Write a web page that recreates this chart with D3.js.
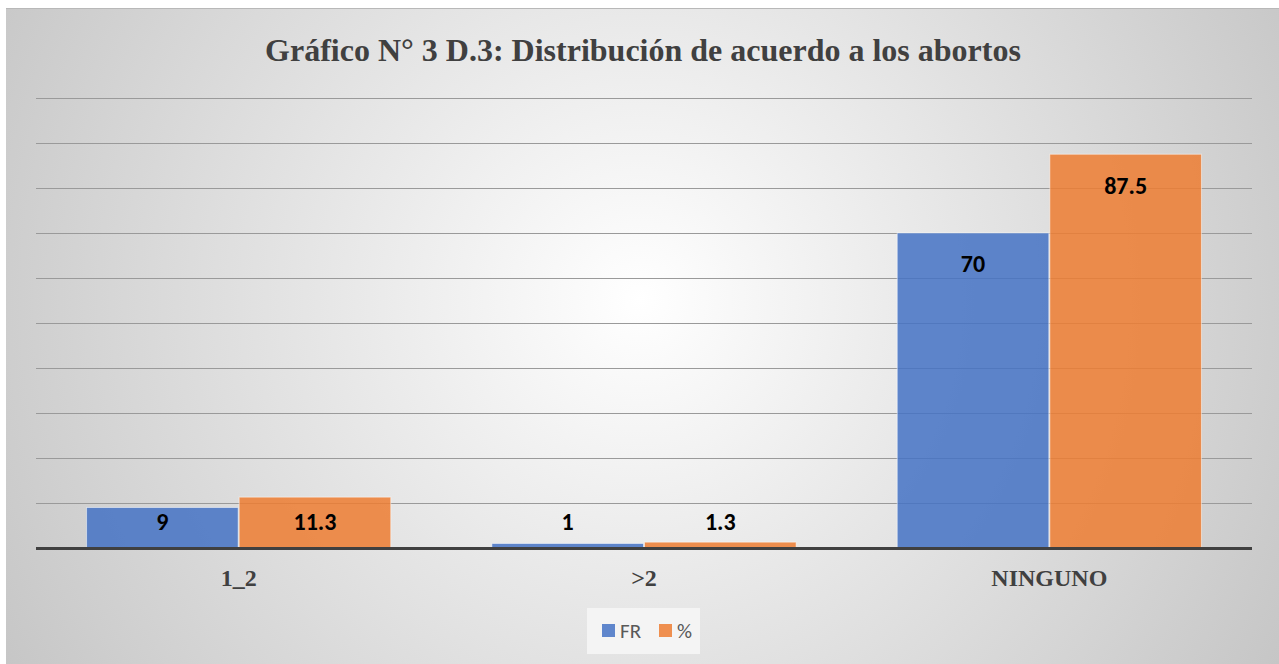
<!DOCTYPE html>
<html>
<head>
<meta charset="utf-8">
<script src="https://cdn.jsdelivr.net/npm/d3@7"></script>
<style>
  html, body { margin: 0; padding: 0; background: #fff; overflow: hidden; }
</style>
</head>
<body>
<div id="chart"></div>
<script>
const categories = ['1_2', '>2', 'NINGUNO'];
const seriesNames = ['FR', '%'];
const frValues = [9, 1, 70];
const pctValues = [11.3, 1.3, 87.5];
const gridTicks = [0, 10, 20, 30, 40, 50, 60, 70, 80, 90, 100];
const title = 'Gráfico N° 3 D.3: Distribución de acuerdo a los abortos';

const colors = { 'FR': '#4472c4', '%': '#ed7d31' };

const drawChart = (id) => {
  const width = 1279;
  const height = 664;
  const plot = { left: 36, right: 1252, top: 98, bottom: 548 };

  const svg = d3.select(id).append('svg')
    .attr('width', width)
    .attr('height', height);

  const defs = svg.append('defs');
  const grad = defs.append('radialGradient')
    .attr('id', 'bg')
    .attr('gradientUnits', 'userSpaceOnUse')
    .attr('cx', 640).attr('cy', 300).attr('r', 760);
  grad.append('stop').attr('offset', '0%').attr('stop-color', '#ffffff');
  grad.append('stop').attr('offset', '100%').attr('stop-color', '#c4c4c4');

  svg.append('rect')
    .attr('x', 6).attr('y', 8)
    .attr('width', width - 6).attr('height', height - 8)
    .attr('fill', 'url(#bg)');
  svg.append('line')
    .attr('x1', 6).attr('x2', width).attr('y1', 8.5).attr('y2', 8.5)
    .attr('stroke', '#b8b8b8');

  svg.append('text')
    .attr('x', 643).attr('y', 61)
    .attr('text-anchor', 'middle')
    .attr('font-family', '"Liberation Serif", "Times New Roman", serif')
    .attr('font-weight', 'bold')
    .attr('font-size', 32)
    .attr('fill', '#404040')
    .text(title);

  const x0 = d3.scaleBand().domain(categories)
    .range([plot.left, plot.right]).paddingInner(0.247).paddingOuter(0.1235);
  const x1 = d3.scaleBand().domain(seriesNames)
    .range([0, x0.bandwidth()]).padding(0);
  const y = d3.scaleLinear().domain([0, 100]).range([plot.bottom, plot.top]);

  const grid = svg.append('g');
  grid.selectAll('line').data(gridTicks.filter(t => t > 0)).enter().append('line')
    .attr('x1', plot.left).attr('x2', plot.right)
    .attr('y1', d => Math.round(y(d)) + 0.5).attr('y2', d => Math.round(y(d)) + 0.5)
    .attr('stroke', '#9a9a9a').attr('stroke-width', 1.2);

  const rows = categories.map((c, i) => ({ cat: c, vals: [
    { s: 'FR', v: frValues[i] }, { s: '%', v: pctValues[i] }] }));

  const groups = svg.selectAll('.grp').data(rows).enter().append('g')
    .attr('class', 'grp')
    .attr('transform', d => `translate(${x0(d.cat)},0)`);

  groups.selectAll('rect').data(d => d.vals).enter().append('rect')
    .attr('x', d => x1(d.s) + 0.5)
    .attr('y', d => y(d.v))
    .attr('width', x1.bandwidth() - 1)
    .attr('height', d => plot.bottom - y(d.v))
    .attr('fill', d => colors[d.s])
    .attr('fill-opacity', 0.85)
    .attr('stroke', '#ffffff').attr('stroke-opacity', 0.5).attr('stroke-width', 1);

  groups.selectAll('.lbl').data(d => d.vals).enter().append('text')
    .attr('class', 'lbl')
    .attr('x', d => x1(d.s) + x1.bandwidth() / 2)
    .attr('y', d => Math.min(y(d.v) + 31, plot.bottom - 26))
    .attr('dy', '0.35em')
    .attr('text-anchor', 'middle')
    .attr('font-family', 'Carlito, "Open Sans", "Liberation Sans", sans-serif')
    .attr('font-weight', 'bold')
    .attr('font-size', 24)
    .attr('fill', '#000')
    .text(d => d.v);

  svg.append('line')
    .attr('x1', plot.left).attr('x2', plot.right)
    .attr('y1', plot.bottom + 0.5).attr('y2', plot.bottom + 0.5)
    .attr('stroke', '#404040').attr('stroke-width', 3);

  const xAxis = svg.append('g')
    .attr('transform', `translate(0,${plot.bottom})`)
    .call(d3.axisBottom(x0).tickSize(0).tickPadding(0));
  xAxis.select('.domain').remove();
  xAxis.selectAll('text')
    .attr('y', 30)
    .attr('dy', '0.35em')
    .attr('font-family', '"Liberation Serif", "Times New Roman", serif')
    .attr('font-weight', 'bold')
    .attr('font-size', 24)
    .attr('fill', '#404040');

  const legend = svg.append('g');
  legend.append('rect')
    .attr('x', 587).attr('y', 608).attr('width', 113).attr('height', 46)
    .attr('fill', '#f7f7f7').attr('fill-opacity', 0.8);
  const legX = [602, 659];
  seriesNames.forEach((s, i) => {
    legend.append('rect')
      .attr('x', legX[i]).attr('y', 624).attr('width', 13).attr('height', 13)
      .attr('fill', colors[s]).attr('fill-opacity', 0.85);
    legend.append('text')
      .attr('x', legX[i] + 18).attr('y', 631).attr('dy', '0.35em')
      .attr('font-family', 'Carlito, "Open Sans", "Liberation Sans", sans-serif')
      .attr('font-size', 21)
      .attr('fill', '#595959')
      .text(s);
  });
};

drawChart('#chart');
</script>
</body>
</html>
